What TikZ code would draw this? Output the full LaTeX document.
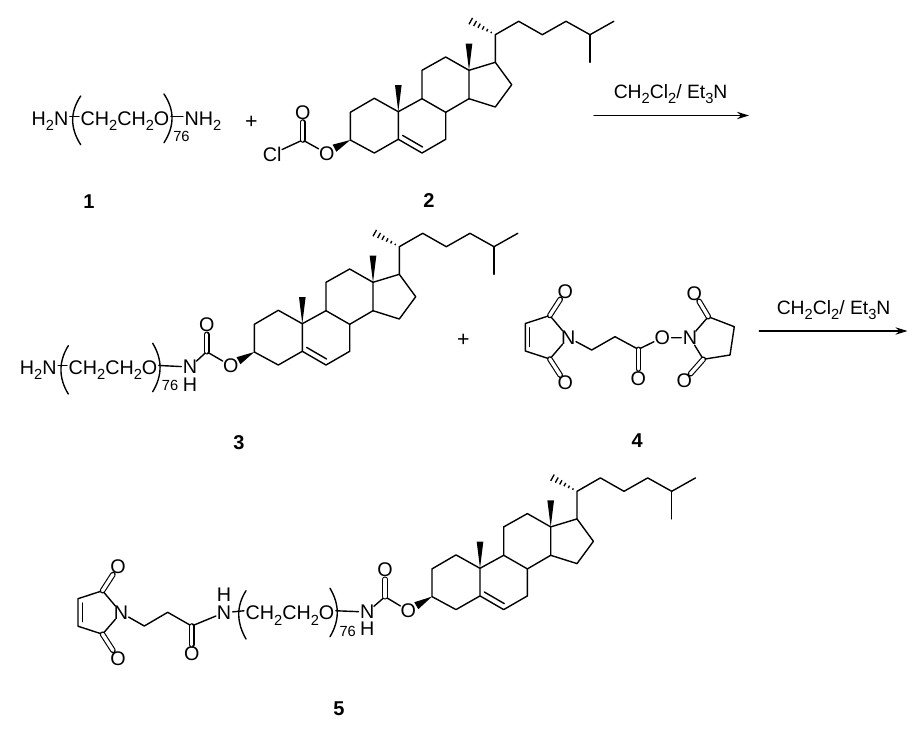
\documentclass[tikz,border=0pt]{standalone}
\usepackage{fontspec}
\setmainfont{Liberation Sans}
\usetikzlibrary{calc,arrows.meta}
\newcommand{\dn}[1]{\raisebox{-0.3em}{\fontsize{11}{12}\selectfont #1}}
\newcommand{\afont}{\fontsize{14.8}{16}\selectfont}
\tikzset{
  x=0.75pt,y=-0.75pt,
  bond/.style={line width=1.05pt,line cap=round,line join=round},
  dbl/.style={double,double distance=2.5pt,line width=0.85pt},
  atom/.style={circle,inner sep=-0.7pt,font=\afont},
  chain/.style={inner sep=1pt,font=\afont,anchor=base west},
  rep/.style={inner sep=0pt,font=\fontsize{11}{12}\selectfont,anchor=base west},
  cmpd/.style={inner sep=0pt,font=\fontsize{15}{17}\selectfont\bfseries},
  plus/.style={inner sep=0pt,font=\fontsize{16}{18}\selectfont},
  reagent/.style={inner sep=0pt,font=\fontsize{14.5}{17}\selectfont,anchor=base west},
  yield/.style={bond,-{Stealth[length=9pt,width=5.5pt]}}
}
\newcommand{\wedgebond}[3]{\fill (#1) -- ($(#2)!#3!90:(#1)$) -- ($(#2)!#3!-90:(#1)$) -- cycle;}
\newcommand{\hashbond}[2]{%
  \foreach \tt/\ww in {0.16/0.6pt,0.32/1.0pt,0.48/1.4pt,0.64/1.8pt,0.80/2.2pt,0.97/2.7pt}{%
    \coordinate (hp) at ($(#1)!\tt!(#2)$);
    \draw[line width=1pt] ($(hp)!\ww!90:(#2)$) -- ($(hp)!\ww!-90:(#2)$);
  }}
% #1 prefix, #2 #3 position of the ring-junction carbon bearing the lower methyl
\newcommand{\steroid}[3]{%
 \begin{scope}[shift={(#2,#3)},name prefix=#1-]
  \coordinate (C10) at (0,0);
  \coordinate (C1) at (-24,-13.4);
  \coordinate (C2) at (-48,0.6);
  \coordinate (C3) at (-48,28.3);
  \coordinate (C4) at (-24,41.3);
  \coordinate (C5) at (0,27.6);
  \coordinate (C6) at (23.7,41.3);
  \coordinate (C7) at (47.4,27.6);
  \coordinate (C8) at (47.4,0.6);
  \coordinate (C9) at (23.7,-13);
  \coordinate (C11) at (23.7,-41.4);
  \coordinate (C12) at (47.4,-54.7);
  \coordinate (C13) at (70.7,-41.4);
  \coordinate (C14) at (70.7,-13);
  \coordinate (C15) at (97,-4.7);
  \coordinate (C16) at (113.4,-27);
  \coordinate (C17) at (97,-49.4);
  \coordinate (C18) at (70.7,-68);
  \coordinate (C19) at (0,-26.7);
  \coordinate (C20) at (97,-77);
  \coordinate (C21) at (71.7,-91);
  \coordinate (C22) at (120.4,-90.4);
  \coordinate (C23) at (144,-77);
  \coordinate (C24) at (167.7,-90.4);
  \coordinate (C25) at (191.7,-77);
  \coordinate (C26) at (215.5,-90.4);
  \coordinate (C27) at (191.7,-49.4);
  \coordinate (D5) at (4.3,23.7);
  \coordinate (D6) at (24.3,35.3);
  \draw[bond] (C10) -- (C1) -- (C2) -- (C3) -- (C4) -- (C5) -- (C10) -- (C9) -- (C8) -- (C7) -- (C6) -- (C5);
  \draw[bond] (C9) -- (C11) -- (C12) -- (C13) -- (C14) -- (C8);
  \draw[bond] (C13) -- (C17) -- (C16) -- (C15) -- (C14);
  \draw[bond] (C17) -- (C20) -- (C22) -- (C23) -- (C24) -- (C25) -- (C26);
  \draw[bond] (C25) -- (C27);
  \draw[bond] (D5) -- (D6);
  \wedgebond{C10}{C19}{2.5pt}
  \wedgebond{C13}{C18}{2.5pt}
  \hashbond{C20}{C21}
 \end{scope}}
% #1 prefix, #2 #3 position of the imide N
\newcommand{\maleimide}[3]{%
 \begin{scope}[shift={(#2,#3)},name prefix=#1-]
  \node[atom] (N) at (0,0) {N};
  \coordinate (Ca) at (-18.5,-22);
  \coordinate (Cb) at (-43,-14);
  \coordinate (Cc) at (-43,13.5);
  \coordinate (Cd) at (-18.5,21.5);
  \coordinate (Ib) at (-38.6,-9.7);
  \coordinate (Ic) at (-38.6,9);
  \node[atom] (Oa) at (-3,-46) {O};
  \node[atom] (Ob) at (-3,45.5) {O};
  \draw[bond] (N) -- (Ca) -- (Cb) -- (Cc) -- (Cd) -- (N);
  \draw[bond] (Ib) -- (Ic);
  \draw[bond,dbl] (Ca) -- (Oa);
  \draw[bond,dbl] (Cd) -- (Ob);
 \end{scope}}
% #1 start, #2 first control, #3 second control, #4 end
\newcommand{\bracket}[4]{\draw[bond] (#1) .. controls (#2) and (#3) .. (#4);}
\begin{document}
\begin{tikzpicture}
\useasboundingbox (0,0) rectangle (924,732);
\fill[white] (0,0) rectangle (924,732);

% ---------- compound 1 ----------
\node[chain] (a-h2n) at (30,125) {H\dn{2}N};
\node[chain] (a-peg) at (79,125) {CH\dn{2}CH\dn{2}O};
\node[chain] (a-nh2) at (183,125) {NH\dn{2}};
\node[rep] (a-76) at (173,141.7) {76};
\coordinate (a-la) at (80.7,96);\coordinate (a-lc) at (70,112);\coordinate (a-ld) at (70,128);\coordinate (a-lb) at (80.7,144.7);
\coordinate (a-ra) at (164,94);\coordinate (a-rc) at (174.7,110);\coordinate (a-rd) at (174.7,126);\coordinate (a-rb) at (164,142.7);
\bracket{a-la}{a-lc}{a-ld}{a-lb}
\bracket{a-ra}{a-rc}{a-rd}{a-rb}
\draw[bond] ([yshift=6.4pt]a-h2n.base east) -- ([yshift=6.4pt]a-peg.base west);
\draw[bond] ([yshift=6.4pt]a-peg.base east) -- ([yshift=6.4pt]a-nh2.base west);
\node[plus] (p1) at (251.3,122.7) {+};
\node[cmpd] (l1) at (89,201.5) {1};

% ---------- compound 2 ----------
\steroid{s2}{398.3}{111.7}
\node[atom] (b-cl) at (272.3,154) {Cl};
\coordinate (b-c) at (302.7,140);
\node[atom] (b-o1) at (302.7,112.7) {O};
\node[atom] (b-o2) at (326.7,153.3) {O};
\draw[bond] (b-cl) -- (b-c) -- (b-o2);
\draw[bond,dbl] (b-c) -- (b-o1);
\coordinate (b-w) at (334.5,148.2);
\wedgebond{s2-C3}{b-w}{3pt}
\node[cmpd] (l2) at (429,201) {2};

% ---------- arrow 1 ----------
\coordinate (r1s) at (594,115.5);
\coordinate (r1e) at (749,115.5);
\draw[yield] (r1s) -- (r1e);
\node[reagent] (r1t) at (613.5,98) {CH\dn{2}Cl\dn{2}/ Et\dn{3}N};

% ---------- compound 3 ----------
\node[chain] (c-h2n) at (18.3,374) {H\dn{2}N};
\node[chain] (c-peg) at (67,374) {CH\dn{2}CH\dn{2}O};
\node[rep] (c-76) at (161.7,390.7) {76};
\coordinate (c-la) at (68.3,345.7);\coordinate (c-lc) at (58.5,361.5);\coordinate (c-ld) at (58.5,378);\coordinate (c-lb) at (68.3,394);
\coordinate (c-ra) at (152.7,343.3);\coordinate (c-rc) at (162.5,359.5);\coordinate (c-rd) at (162.5,375.5);\coordinate (c-rb) at (152.7,391.7);
\bracket{c-la}{c-lc}{c-ld}{c-lb}
\bracket{c-ra}{c-rc}{c-rd}{c-rb}
\node[atom] (c-n) at (190,367) {N};
\node[atom] (c-h) at (190,385) {H};
\coordinate (c-c) at (206.7,351.7);
\node[atom] (c-o1) at (206.7,325) {O};
\node[atom] (c-o2) at (230.7,365.7) {O};
\draw[bond] ([yshift=6.4pt]c-h2n.base east) -- ([yshift=6.4pt]c-peg.base west);
\draw[bond] ([yshift=6.4pt]c-peg.base east) -- (c-n);
\draw[bond] (c-n) -- (c-c) -- (c-o2);
\draw[bond,dbl] (c-c) -- (c-o1);
\steroid{s3}{302.3}{323.7}
\coordinate (c-w) at (238.5,360.7);
\wedgebond{s3-C3}{c-w}{3pt}
\node[cmpd] (l3) at (239,442.7) {3};
\node[plus] (p2) at (463.3,340) {+};

% ---------- compound 4 ----------
\maleimide{m4}{568.3}{337.5}
\coordinate (d-c1) at (591.7,350);
\coordinate (d-c2) at (615,336.7);
\coordinate (d-c3) at (638.3,349.3);
\node[atom] (d-o1) at (638.3,378.3) {O};
\node[atom] (d-o2) at (662.3,337.7) {O};
\node[atom] (d-n) at (690,337.7) {N};
\coordinate (d-a) at (708.3,316.7);
\coordinate (d-b) at (734.3,326.7);
\coordinate (d-d) at (730,355);
\coordinate (d-e) at (703.3,359.3);
\node[atom] (d-o3) at (694.3,293.3) {O};
\node[atom] (d-o4) at (684.3,380.7) {O};
\draw[bond] (m4-N) -- (d-c1) -- (d-c2) -- (d-c3) -- (d-o2) -- (d-n);
\draw[bond,dbl] (d-c3) -- (d-o1);
\draw[bond] (d-n) -- (d-a) -- (d-b) -- (d-d) -- (d-e) -- (d-n);
\draw[bond,dbl] (d-a) -- (d-o3);
\draw[bond,dbl] (d-e) -- (d-o4);
\node[cmpd] (l4) at (637.3,440.7) {4};

% ---------- arrow 2 ----------
\coordinate (r2s) at (759.3,331);
\coordinate (r2e) at (907.5,331);
\draw[yield] (r2s) -- (r2e);
\node[reagent] (r2t) at (776.5,314) {CH\dn{2}Cl\dn{2}/ Et\dn{3}N};

% ---------- compound 5 ----------
\maleimide{m5}{121}{612.7}
\coordinate (e-c1) at (144.3,626);
\coordinate (e-c2) at (167.7,612.3);
\coordinate (e-c3) at (191.7,626);
\node[atom] (e-o1) at (191.7,654) {O};
\node[atom] (e-n1) at (224,612.7) {N};
\node[atom] (e-h1) at (224,595) {H};
\draw[bond] (m5-N) -- (e-c1) -- (e-c2) -- (e-c3) -- (e-n1);
\draw[bond,dbl] (e-c3) -- (e-o1);
\node[chain] (e-peg) at (244,619.3) {CH\dn{2}CH\dn{2}O};
\node[rep] (e-76) at (339.3,636) {76};
\coordinate (e-la) at (246,590.7);\coordinate (e-lc) at (236.3,606);\coordinate (e-ld) at (236.3,622);\coordinate (e-lb) at (246,639);
\coordinate (e-ra) at (330,588.3);\coordinate (e-rc) at (339.7,604.5);\coordinate (e-rd) at (339.7,620.5);\coordinate (e-rb) at (330,636.7);
\bracket{e-la}{e-lc}{e-ld}{e-lb}
\bracket{e-ra}{e-rc}{e-rd}{e-rb}
\draw[bond] (e-n1) -- ([yshift=6.4pt]e-peg.base west);
\node[atom] (e-n2) at (367.3,612) {N};
\node[atom] (e-h2) at (367.3,628.8) {H};
\draw[bond] ([yshift=6.4pt]e-peg.base east) -- (e-n2);
\coordinate (e-c) at (385,596.7);
\node[atom] (e-o2) at (385,570) {O};
\node[atom] (e-o3) at (408.3,610.7) {O};
\draw[bond] (e-n2) -- (e-c) -- (e-o3);
\draw[bond,dbl] (e-c) -- (e-o2);
\steroid{s5}{480}{568.3}
\coordinate (e-w) at (416.3,605.7);
\wedgebond{s5-C3}{e-w}{3pt}
\node[cmpd] (l5) at (339,709) {5};
\end{tikzpicture}
\end{document}
